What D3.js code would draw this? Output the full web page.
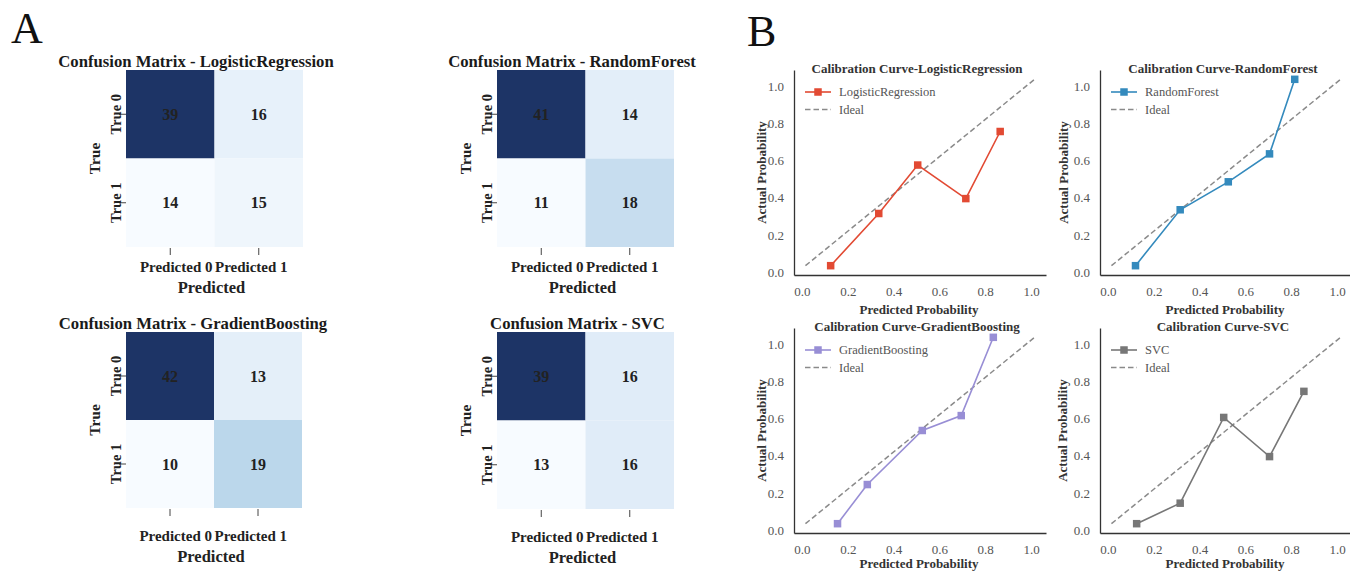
<!DOCTYPE html>
<html>
<head>
<meta charset="utf-8">
<script src="https://cdn.jsdelivr.net/npm/d3@7"></script>
<style>
  html, body { margin: 0; padding: 0; background: #fff; }
  svg { display: block; font-family: "Liberation Serif", "Times New Roman", serif; }
</style>
</head>
<body>
<svg id="chart" width="1350" height="572"></svg>
<script>
// ---------------- DATA ----------------
const modelNames = ["LogisticRegression", "RandomForest", "GradientBoosting", "SVC"];
const rowLabels = ["True 0", "True 1"];
const colLabels = ["Predicted 0", "Predicted 1"];

const cmLogisticRegression = [[39, 16], [14, 15]];
const cmRandomForest       = [[41, 14], [11, 18]];
const cmGradientBoosting   = [[42, 13], [10, 19]];
const cmSVC                = [[39, 16], [13, 16]];

const calLogisticRegressionX = [0.11, 0.32, 0.49, 0.70, 0.85];
const calLogisticRegressionY = [0.00, 0.28, 0.54, 0.36, 0.72];
const calRandomForestX = [0.105, 0.30, 0.51, 0.69, 0.80];
const calRandomForestY = [0.00, 0.30, 0.45, 0.60, 1.00];
const calGradientBoostingX = [0.14, 0.27, 0.51, 0.68, 0.82];
const calGradientBoostingY = [0.00, 0.21, 0.50, 0.58, 1.00];
const calSVCX = [0.11, 0.30, 0.49, 0.69, 0.84];
const calSVCY = [0.00, 0.11, 0.57, 0.36, 0.71];

const idealX = [0, 1];
const idealY = [0, 1];
const probTicks = [0.0, 0.2, 0.4, 0.6, 0.8, 1.0];
const probTickLabels = ["0.0", "0.2", "0.4", "0.6", "0.8", "1.0"];

// ---------------- STYLE / LAYOUT ----------------
const seriesColors = ["#E24A33", "#348ABD", "#988ED5", "#777777"];
const bluesStops = ["#f7fbff", "#deebf7", "#c6dbef", "#9ecae1", "#6baed6", "#4292c6", "#2f6aa8", "#1f4787", "#1d3466"];
const svg = d3.select("#chart");

svg.append("text").attr("x", 11).attr("y", 43).attr("font-size", 44).attr("fill", "#111").text("A");
svg.append("text").attr("x", 747).attr("y", 46).attr("font-size", 44).attr("fill", "#111").text("B");

const matrices = [cmLogisticRegression, cmRandomForest, cmGradientBoosting, cmSVC];
const cmLayout = [
  { x: 126, y: 70,  size: 177, titleCx: 196,   tickDy: 24.7, labelDy: 45.7 },
  { x: 497, y: 70,  size: 177, titleCx: 572,   tickDy: 24.7, labelDy: 45.7 },
  { x: 126, y: 332, size: 176, titleCx: 193,   tickDy: 32.7, labelDy: 53.7 },
  { x: 497, y: 332, size: 177, titleCx: 577.5, tickDy: 32.7, labelDy: 53.7 }
];

matrices.forEach((m, k) => {
  const L = cmLayout[k];
  const g = svg.append("g");
  const xs = d3.scaleBand().domain(colLabels).range([L.x, L.x + L.size]);
  const ys = d3.scaleBand().domain(rowLabels).range([L.y, L.y + L.size]);
  const flat = m.flat();
  const color = d3.scaleSequential(d3.interpolateRgbBasis(bluesStops)).domain([d3.min(flat), d3.max(flat)]);
  const cells = [];
  m.forEach((row, i) => row.forEach((v, j) => cells.push({ r: rowLabels[i], c: colLabels[j], v })));

  g.selectAll("rect").data(cells).join("rect")
    .attr("x", d => xs(d.c)).attr("y", d => ys(d.r))
    .attr("width", xs.bandwidth()).attr("height", ys.bandwidth())
    .attr("fill", d => color(d.v));

  g.selectAll("text.ann").data(cells).join("text").attr("class", "ann")
    .attr("x", d => xs(d.c) + xs.bandwidth() / 2)
    .attr("y", d => ys(d.r) + ys.bandwidth() / 2 + 5.5)
    .attr("text-anchor", "middle").attr("font-size", 16).attr("font-weight", "bold")
    .attr("fill", "#222").text(d => d.v);

  // title
  g.append("text").attr("x", L.titleCx).attr("y", L.y - 3)
    .attr("text-anchor", "middle").attr("font-size", 16.7).attr("font-weight", "bold")
    .attr("fill", "#1a1a1a").text("Confusion Matrix - " + modelNames[k]);

  // y ticks
  rowLabels.forEach(r => {
    const cy = ys(r) + ys.bandwidth() / 2;
    g.append("line").attr("x1", L.x - 7).attr("x2", L.x).attr("y1", cy).attr("y2", cy)
      .attr("stroke", "#444").attr("stroke-width", 1);
    g.append("text").attr("transform", `translate(${L.x - 5},${cy}) rotate(-90)`)
      .attr("text-anchor", "middle").attr("font-size", 14.5).attr("font-weight", "bold")
      .attr("fill", "#222").text(r);
  });
  g.append("text").attr("transform", `translate(${L.x - 26},${L.y + L.size / 2}) rotate(-90)`)
    .attr("text-anchor", "middle").attr("font-size", 15.5).attr("font-weight", "bold")
    .attr("fill", "#222").text("True");

  // x ticks
  const bottom = L.y + L.size;
  colLabels.forEach((c, j) => {
    const cx = xs(c) + xs.bandwidth() / 2;
    g.append("line").attr("x1", cx).attr("x2", cx).attr("y1", bottom + 1).attr("y2", bottom + 8)
      .attr("stroke", "#444").attr("stroke-width", 1);
    const boundary = L.x + xs.bandwidth();
    g.append("text")
      .attr("x", j === 0 ? boundary - 2 : boundary + 0.5)
      .attr("y", bottom + L.tickDy)
      .attr("text-anchor", j === 0 ? "end" : "start")
      .attr("font-size", 15).attr("font-weight", "bold").attr("fill", "#222").text(c);
  });
  g.append("text").attr("x", L.x + L.size / 2 - 3).attr("y", bottom + L.labelDy)
    .attr("text-anchor", "middle").attr("font-size", 16.5).attr("font-weight", "bold")
    .attr("fill", "#222").text("Predicted");
});

// ---------------- CALIBRATION ----------------
const calX = [calLogisticRegressionX, calRandomForestX, calGradientBoostingX, calSVCX];
const calY = [calLogisticRegressionY, calRandomForestY, calGradientBoostingY, calSVCY];
const calLayout = [
  { left: 794,  top: 70,  w: 252, h: 205, xlabDy: 39,   ylabDx: -28 },
  { left: 1100, top: 70,  w: 252, h: 205, xlabDy: 39,   ylabDx: -32 },
  { left: 794,  top: 328, w: 252, h: 205, xlabDy: 34.7, ylabDx: -28 },
  { left: 1100, top: 328, w: 252, h: 205, xlabDy: 34.7, ylabDx: -33 }
];

calX.forEach((xsArr, k) => {
  const L = calLayout[k];
  const g = svg.append("g");
  const x = d3.scaleLinear().domain([-0.05, 1.05]).range([L.left, L.left + L.w]);
  const y = d3.scaleLinear().domain([-0.05, 1.05]).range([L.top + L.h, L.top]);
  const bottom = L.top + L.h;
  const col = seriesColors[k];

  // ideal
  const idealPts = idealX.map((v, i) => [v, idealY[i]]);
  g.append("path").datum(idealPts)
    .attr("d", d3.line().x(d => x(d[0])).y(d => y(d[1])))
    .attr("fill", "none").attr("stroke", "#8a8a8a").attr("stroke-width", 1.5)
    .attr("stroke-dasharray", "5.5,3");

  // series
  const pts = xsArr.map((v, i) => [v, calY[k][i]]);
  g.append("path").datum(pts)
    .attr("d", d3.line().x(d => x(d[0])).y(d => y(d[1])))
    .attr("fill", "none").attr("stroke", col).attr("stroke-width", 1.6);
  const ms = 7.5;
  g.selectAll("rect.mk").data(pts).join("rect").attr("class", "mk")
    .attr("x", d => x(d[0]) - ms / 2).attr("y", d => y(d[1]) - ms / 2)
    .attr("width", ms).attr("height", ms).attr("fill", col);

  // axes (spines)
  const xAxis = d3.axisBottom(x).tickValues([]).tickSizeOuter(0);
  const yAxis = d3.axisLeft(y).tickValues([]).tickSizeOuter(0);
  const gx = g.append("g").attr("transform", `translate(0,${bottom})`).call(xAxis);
  const gy = g.append("g").attr("transform", `translate(${L.left},0)`).call(yAxis);
  [gx, gy].forEach(a => a.select(".domain").attr("stroke", "#333").attr("stroke-width", 1.3));

  // tick labels
  g.selectAll("text.xt").data(probTicks).join("text").attr("class", "xt")
    .attr("x", d => x(d) - 3).attr("y", bottom + 20.5)
    .attr("text-anchor", "middle").attr("font-size", 13).attr("fill", "#555")
    .text((d, i) => probTickLabels[i]);
  g.selectAll("text.yt").data(probTicks).join("text").attr("class", "yt")
    .attr("x", L.left - 10).attr("y", d => y(d) + 11.3)
    .attr("text-anchor", "end").attr("font-size", 13).attr("fill", "#555")
    .text((d, i) => probTickLabels[i]);

  // labels
  g.append("text").attr("x", L.left + L.w / 2 - 1).attr("y", bottom + L.xlabDy)
    .attr("text-anchor", "middle").attr("font-size", 13).attr("font-weight", "bold")
    .attr("fill", "#333").text("Predicted Probability");
  g.append("text").attr("transform", `translate(${L.left + L.ylabDx},${L.top + L.h / 2}) rotate(-90)`)
    .attr("text-anchor", "middle").attr("font-size", 13).attr("font-weight", "bold")
    .attr("fill", "#333").text("Actual Probability");
  g.append("text").attr("x", L.left + L.w / 2 - 3).attr("y", L.top + 3)
    .attr("text-anchor", "middle").attr("font-size", 13).attr("font-weight", "bold")
    .attr("fill", "#333").text("Calibration Curve-" + modelNames[k]);

  // legend
  const ly1 = L.top + 22, ly2 = L.top + 39.5;
  g.append("line").attr("x1", L.left + 11).attr("x2", L.left + 37).attr("y1", ly1).attr("y2", ly1)
    .attr("stroke", col).attr("stroke-width", 1.6);
  g.append("rect").attr("x", L.left + 24 - ms / 2).attr("y", ly1 - ms / 2)
    .attr("width", ms).attr("height", ms).attr("fill", col);
  g.append("text").attr("x", L.left + 45).attr("y", ly1 + 4.3)
    .attr("font-size", 12.5).attr("fill", "#555").text(modelNames[k]);
  g.append("line").attr("x1", L.left + 11).attr("x2", L.left + 37).attr("y1", ly2).attr("y2", ly2)
    .attr("stroke", "#8a8a8a").attr("stroke-width", 1.5).attr("stroke-dasharray", "5.5,3");
  g.append("text").attr("x", L.left + 45).attr("y", ly2 + 4.3)
    .attr("font-size", 12.5).attr("fill", "#555").text("Ideal");
});
</script>
</body>
</html>
